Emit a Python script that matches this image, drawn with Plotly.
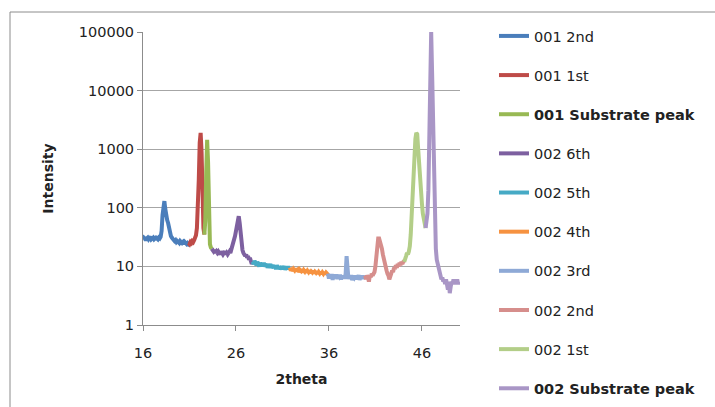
import plotly.graph_objects as go

STEP = 0.1

names = ["001 2nd", "001 1st", "<b>001 Substrate peak</b>", "002 6th", "002 5th",
         "002 4th", "002 3rd", "002 2nd", "002 1st", "<b>002 Substrate peak</b>"]
colors = ["#4A7EBB", "#BE4B48", "#98B954", "#7D60A0", "#46AAC5",
          "#F69240", "#8EA9D6", "#D68E8C", "#B3CE88", "#A996C6"]

start_2theta = [16.0, 20.9, 22.6, 23.4, 27.8, 31.8, 35.9, 39.9, 44.1, 46.4]

i_001_2nd = [29, 31, 30, 28, 30, 31, 29, 30, 32, 29, 30, 31, 29, 30, 31, 30, 29, 31, 30, 32,
             40, 75, 118, 130, 95, 70, 62, 55, 45, 38, 33, 31, 29, 28, 27, 28, 26, 27, 26, 25,
             27, 26, 25, 26, 24, 26, 25, 24, 25, 24, 25]
i_001_1st = [25, 24, 26, 25, 27, 26, 28, 30, 34, 45, 85, 300, 1300, 1900, 900, 120, 45, 35]
i_001_sub = [35, 60, 400, 1450, 600, 60, 24, 21, 20]
i_002_6th = [20, 19, 18, 19, 17, 18, 17, 18, 17, 16, 18, 17, 16, 17, 18, 16, 17, 16, 17, 18,
             17, 19, 21, 24, 28, 33, 40, 50, 68, 72, 55, 35, 24, 19, 17, 16, 15, 16, 14, 15,
             13, 14, 12, 11, 12]
i_002_5th = [12, 11, 12.5, 11, 10.5, 12, 11, 10, 11.5, 10.5, 11, 10, 11.5, 10, 10.5, 11, 9.5,
             10.5, 10, 11, 9.5, 10, 10.5, 9.5, 10, 9, 10.5, 9.5, 10, 9, 9.5, 10, 9, 9.5, 10,
             8.8, 9.5, 9, 10, 9, 9.5]
i_002_4th = [9.5, 8.5, 9.2, 8.3, 9, 8.6, 9.3, 8.2, 8.8, 9, 8, 8.7, 8.4, 9, 7.9, 8.6, 8.2, 8.8,
             7.8, 8.4, 8, 8.6, 7.7, 8.2, 7.9, 8.5, 7.6, 8.1, 7.8, 8.3, 7.5, 8, 7.6, 8.1, 7.4,
             7.9, 7.5, 8, 7.3, 7.8, 7.5, 7.2]
i_002_3rd = [7.5, 6.2, 7.2, 6.5, 7.4, 5.9, 6.8, 7.1, 6.3, 7.3, 6.1, 6.9, 6.6, 7.2, 6, 6.8, 6.4,
             7, 6.2, 7.5, 15, 7.2, 6.1, 6.9, 6.3, 7.1, 5.8, 6.7, 6.4, 7, 6, 6.8, 6.2, 7.1, 5.9,
             6.6, 6.3, 7, 6.1, 6.8, 6.5]
i_002_2nd = [7, 6, 7, 6.5, 5.5, 7, 6.5, 7.5, 7, 7.5, 8, 10, 16, 25, 30, 30, 27, 24, 20, 16,
             13, 11, 9.5, 8.5, 7.5, 7, 6, 6.5, 7.5, 8.5, 8, 9.5, 9, 10.5, 9.5, 11, 10, 11.5,
             10.5, 12, 11, 12, 12.5]
i_002_1st = [12, 13, 15, 17, 16, 18, 22, 35, 80, 220, 500, 1000, 1500, 1900, 1800, 1000, 500,
             300, 180, 120, 80, 60, 48, 45]
i_002_sub = [45, 55, 80, 200, 1000, 10000, 100000, 20000, 2000, 200, 50, 20, 13, 11, 9, 7.5,
             7.5, 6, 6.5, 5.5, 6, 5, 6, 5, 4, 5.5, 3.5, 4.5, 5.5, 5, 6, 5, 5.5, 5, 6, 5, 5.5]

series = [i_001_2nd, i_001_1st, i_001_sub, i_002_6th, i_002_5th,
          i_002_4th, i_002_3rd, i_002_2nd, i_002_1st, i_002_sub]

x_ticks = [16, 26, 36, 46]
y_ticks = [1, 10, 100, 1000, 10000, 100000]
y_tick_text = ["1", "10", "100", "1000", "10000", "100000"]

FONT = "DejaVu Sans"
GRID = "#A6A6A6"
AXIS = "#8C8C8C"

fig = go.Figure()
for k, (name, col, x0, ys) in enumerate(zip(names, colors, start_2theta, series)):
    xs = [round(x0 + STEP * i, 2) for i in range(len(ys))]
    fig.add_trace(go.Scatter(x=xs, y=ys, mode="lines", name=name,
                             legendgroup=f"g{k}",
                             line=dict(color=col, width=4)))

fig.add_shape(type="rect", xref="paper", yref="paper",
              x0=(10 - 143) / 317, x1=2.0, y0=-1.0, y1=1 + 20 / 293,
              line=dict(color=AXIS, width=1), fillcolor="rgba(0,0,0,0)", layer="below")

fig.update_layout(
    width=715, height=407,
    margin=dict(l=143, r=255, t=32, b=82),
    paper_bgcolor="white", plot_bgcolor="white",
    font=dict(family=FONT, size=14.5, color="#222222"),
    showlegend=True,
    legend=dict(x=(494 - 143) / 317, y=1 + 12 / 293, xanchor="left", yanchor="top",
                maxheight=400, tracegroupgap=17.3, font=dict(size=14.5, color="#222222"),
                bgcolor="rgba(0,0,0,0)"),
    xaxis=dict(range=[16, 50.1], tickvals=x_ticks, ticks="outside", ticklen=5,
               tickcolor=AXIS, showline=True, linecolor=AXIS, linewidth=1,
               showgrid=False, zeroline=False, ticklabelstandoff=10,
               title=dict(text="<b>2theta</b>", font=dict(size=14), standoff=13)),
    yaxis=dict(type="log", range=[0, 5], tickvals=y_ticks, ticktext=y_tick_text,
               ticks="outside", ticklen=5, tickcolor=AXIS, showline=True, linecolor=AXIS,
               linewidth=1, showgrid=True, gridcolor=GRID, gridwidth=1, zeroline=False,
               title=dict(text="<b>Intensity</b>", font=dict(size=14), standoff=21)),
)

fig.write_html("out.html", config={"displayModeBar": False},
               post_script="document.body.style.margin='0';")
